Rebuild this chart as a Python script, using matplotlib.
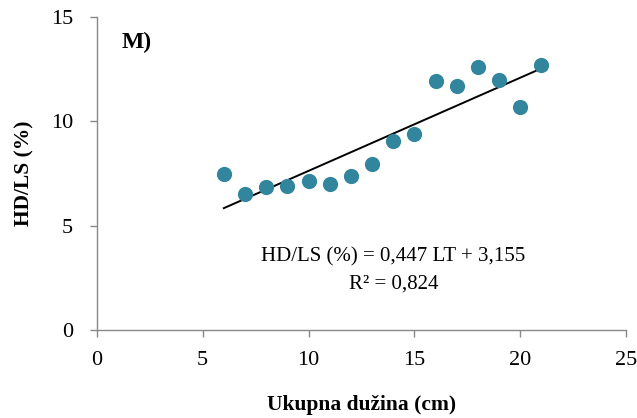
import matplotlib
matplotlib.use("Agg")
import matplotlib.pyplot as plt
import numpy as np

length_cm = [6, 7, 8, 9, 10, 11, 12, 13, 14, 15, 16, 17, 18, 19, 20, 21]
hd_ls = [7.47, 6.50, 6.84, 6.90, 7.14, 7.00, 7.38, 7.97, 9.06, 9.38, 11.92, 11.71, 12.60, 11.98, 10.67, 12.70]
slope, intercept = 0.447, 3.155
x_ticks = [0, 5, 10, 15, 20, 25]
y_ticks = [0, 5, 10, 15]

plt.rcParams['font.family'] = ['Liberation Serif', 'DejaVu Serif']

fig = plt.figure(figsize=(6.37, 4.18), dpi=100)
ax = fig.add_axes([0.152, 0.211, 0.831, 0.748])

ax.scatter(length_cm, hd_ls, s=120, color='#31859C', zorder=3, linewidths=0)
xl = np.array([min(length_cm), max(length_cm)])
ax.plot(xl, slope * xl + intercept, color='black', lw=1.4, zorder=2)

ax.set_xlim(0, 25)
ax.set_ylim(0, 15)
ax.set_xticks(x_ticks)
ax.set_yticks(y_ticks)
for s in ['top', 'right']:
    ax.spines[s].set_visible(False)
for s in ['left', 'bottom']:
    ax.spines[s].set_color('#898989')
    ax.spines[s].set_linewidth(1.0)
ax.tick_params(direction='out', length=5, width=1.0, color='#898989', labelsize=16)
ax.tick_params(axis='x', pad=10)
ax.tick_params(axis='y', pad=12)

ax.set_xlabel('Ukupna dužina (cm)', fontsize=15.5, fontweight='bold', labelpad=18)
ax.set_ylabel('HD/LS (%)', fontsize=15.5, fontweight='bold', labelpad=12)

ax.text(1.15, 13.8, 'M)', fontsize=17, fontweight='bold', ha='left', va='center')
ax.text(14.0, 3.5, 'HD/LS (%) = 0,447 LT + 3,155', fontsize=15, ha='center', va='center')
ax.text(14.0, 2.2, 'R² = 0,824', fontsize=15, ha='center', va='center')

fig.savefig('out.png', dpi=100)
